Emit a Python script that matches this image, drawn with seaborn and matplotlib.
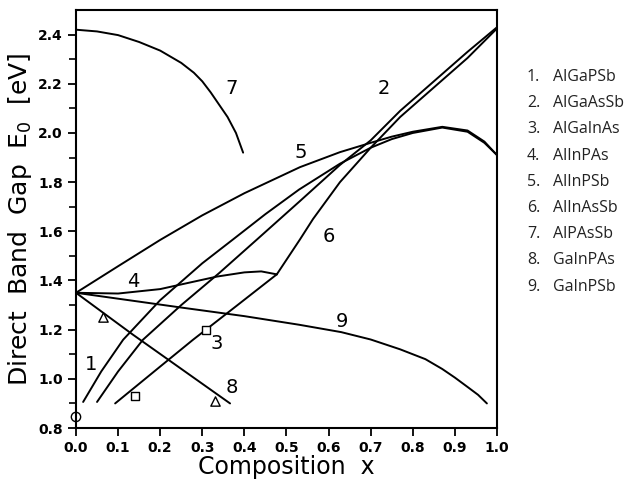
import numpy as np
import pandas as pd
import matplotlib
matplotlib.use("Agg")
import matplotlib.pyplot as plt
import seaborn as sns

# ---------------- data ----------------
c1_x = [0.017, 0.06, 0.112, 0.2, 0.3, 0.373, 0.45, 0.53, 0.627, 0.7, 0.75, 0.8, 0.87, 0.93, 0.97, 1.0]
c1_y = [0.906, 1.03, 1.159, 1.32, 1.47, 1.567, 1.67, 1.77, 1.875, 1.94, 1.975, 2.0, 2.022, 2.005, 1.96, 1.91]

c2_x = [0.05, 0.1, 0.159, 0.25, 0.34, 0.43, 0.53, 0.627, 0.7, 0.77, 0.85, 0.93, 1.0]
c2_y = [0.906, 1.03, 1.159, 1.30, 1.43, 1.567, 1.72, 1.87, 1.97, 2.09, 2.21, 2.33, 2.43]

c3_x = [0.093, 0.2, 0.278, 0.38, 0.477]
c3_y = [0.90, 1.05, 1.159, 1.295, 1.425]

c4_x = [0.0, 0.1, 0.2, 0.25, 0.335, 0.4, 0.44, 0.477]
c4_y = [1.35, 1.347, 1.365, 1.384, 1.416, 1.433, 1.437, 1.425]

c5_x = [0.0, 0.1, 0.2, 0.3, 0.4, 0.532, 0.627, 0.7, 0.75, 0.8, 0.87, 0.93, 0.97, 1.0]
c5_y = [1.35, 1.458, 1.565, 1.665, 1.755, 1.861, 1.922, 1.96, 1.985, 2.005, 2.025, 2.01, 1.965, 1.91]

c6_x = [0.477, 0.532, 0.563, 0.627, 0.7, 0.77, 0.85, 0.93, 1.0]
c6_y = [1.425, 1.567, 1.65, 1.80, 1.94, 2.065, 2.185, 2.305, 2.425]

c7_x = [0.0, 0.05, 0.1, 0.15, 0.2, 0.25, 0.28, 0.3, 0.32, 0.34, 0.36, 0.38, 0.397]
c7_y = [2.42, 2.413, 2.398, 2.37, 2.335, 2.285, 2.245, 2.21, 2.165, 2.115, 2.065, 2.0, 1.92]

c8_x = [0.0, 0.135, 0.366]
c8_y = [1.35, 1.18, 0.90]

c9_x = [0.0, 0.1, 0.25, 0.4, 0.53, 0.63, 0.7, 0.77, 0.83, 0.87, 0.9, 0.93, 0.955, 0.976]
c9_y = [1.35, 1.326, 1.29, 1.255, 1.22, 1.19, 1.16, 1.12, 1.08, 1.04, 1.005, 0.967, 0.935, 0.90]

circle_x = [0.0]
circle_y = [0.845]
square_x = [0.14, 0.31]
square_y = [0.93, 1.20]
tri_x = [0.064, 0.33]
tri_y = [1.253, 0.91]

curve_labels = ["1", "2", "3", "4", "5", "6", "7", "8", "9"]
label_x = [0.035, 0.73, 0.335, 0.135, 0.535, 0.60, 0.37, 0.37, 0.632]
label_y = [1.06, 2.18, 1.145, 1.395, 1.92, 1.58, 2.18, 0.965, 1.235]

legend_names = ["AlGaPSb", "AlGaAsSb", "AlGaInAs", "AlInPAs", "AlInPSb",
                "AlInAsSb", "AlPAsSb", "GaInPAs", "GaInPSb"]

x_ticks = [0.0, 0.1, 0.2, 0.3, 0.4, 0.5, 0.6, 0.7, 0.8, 0.9, 1.0]
y_ticks = [0.8, 1.0, 1.2, 1.4, 1.6, 1.8, 2.0, 2.2, 2.4]

# ---------------- plot ----------------
sns.set_theme(style="ticks")
plt.rcParams["font.family"] = ["DejaVu Sans"]

fig = plt.figure(figsize=(6.3, 4.8), dpi=100)
ax = fig.add_axes([0.1206, 0.1083, 0.6683, 0.8708])

curves = [(c1_x, c1_y), (c2_x, c2_y), (c3_x, c3_y), (c4_x, c4_y), (c5_x, c5_y),
          (c6_x, c6_y), (c7_x, c7_y), (c8_x, c8_y), (c9_x, c9_y)]
for cx, cy in curves:
    sns.lineplot(x=cx, y=cy, ax=ax, color="black", linewidth=1.4,
                 sort=False, estimator=None, legend=False)

sns.scatterplot(x=circle_x, y=circle_y, ax=ax, marker="o", s=45,
                facecolor="none", edgecolor="black", linewidth=1.0, clip_on=False, zorder=5)
sns.scatterplot(x=square_x, y=square_y, ax=ax, marker="s", s=40,
                facecolor="white", edgecolor="black", linewidth=1.0, zorder=5)
sns.scatterplot(x=tri_x, y=tri_y, ax=ax, marker="^", s=45,
                facecolor="white", edgecolor="black", linewidth=1.0, zorder=5)

for t, lx, ly in zip(curve_labels, label_x, label_y):
    ax.text(lx, ly, t, fontsize=14, ha="center", va="center", color="black")

ax.set_xlim(0.0, 1.0)
ax.set_ylim(0.8, 2.5)
ax.set_xticks(x_ticks)
ax.set_xticklabels([f"{v:.1f}" for v in x_ticks])
ax.set_yticks(y_ticks)
ax.set_yticklabels([f"{v:.1f}" for v in y_ticks])
ax.set_yticks(np.arange(0.9, 2.5, 0.2), minor=True)
ax.tick_params(axis="both", which="major", direction="out", length=6, width=1.3,
               labelsize=10, color="black", labelcolor="black")
ax.tick_params(axis="y", which="minor", direction="out", length=5, width=1.2, color="black")
for lab in ax.get_xticklabels() + ax.get_yticklabels():
    lab.set_fontweight("bold")
for sp in ax.spines.values():
    sp.set_linewidth(1.5)
    sp.set_color("black")

ax.set_xlabel("Composition  x", fontsize=17, labelpad=0, color="black")
ax.set_ylabel("Direct  Band  Gap  E$_0$  [eV]", fontsize=18, labelpad=3, color="black")

# side list of compounds
for i, name in enumerate(legend_names):
    py = 77 + i * 26.2
    fig.text(527 / 630, 1 - py / 480, f"{i + 1}.", fontsize=11.5, ha="left", va="center",
             color="#222222", family=["Open Sans", "DejaVu Sans"])
    fig.text(553 / 630, 1 - py / 480, name, fontsize=11.5, ha="left", va="center",
             color="#222222", family=["Open Sans", "DejaVu Sans"])

fig.savefig("out.png", dpi=100, facecolor="white")
